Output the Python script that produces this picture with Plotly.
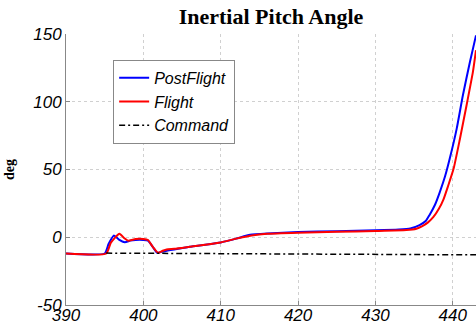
import plotly.graph_objects as go

# ---- data ----
t_post = [390, 395.0, 395.5, 396.2, 396.8, 397.6, 398.3, 399.0, 400.0, 400.6, 401.2, 401.8,
          402.5, 403.0, 404, 406, 408, 410, 412, 413.8, 416, 420, 425, 430, 433, 434.5,
          435.7, 436.5, 437.0, 437.7, 438.3, 439.0, 439.6, 440.5, 441.3, 442.2, 443.0]
v_post = [-12, -12, -5, 1.3, -1.5, -3.6, -2.5, -2, -2, -2.5, -7, -11.5,
          -10.5, -10, -9, -7, -5.5, -3.8, -1, 1.8, 2.8, 3.8, 4.5, 5.2, 5.8, 6.5,
          9, 12, 16.5, 24, 33, 45, 57.9, 80, 104.6, 129, 149]

t_flight = [390, 395.2, 395.8, 396.9, 397.5, 398.0, 399.0, 400.0, 400.6, 401.2, 401.9,
            402.5, 403.0, 404, 406, 408, 410, 412, 414, 416, 420, 425, 430, 434,
            435.3, 436.0, 436.8, 437.5, 438.2, 438.8, 439.4, 440.1, 440.9, 441.8, 442.6, 443.0]
v_flight = [-12, -12, -4, 2.6, -0.5, -2.5, -1.3, -1.3, -2, -7, -11.5,
            -10, -9, -8.5, -7, -5.5, -3.8, -1, 1.3, 2.5, 3.3, 4.0, 4.6, 5.3,
            6.3, 8, 11, 15, 21, 28, 38, 50.5, 72, 98, 122, 138]

t_cmd = [395.2, 443.0]
v_cmd = [-11.7, -13.0]

x_ticks = [390, 400, 410, 420, 430, 440]
y_ticks = [-50, 0, 50, 100, 150]

fig = go.Figure()
fig.add_trace(go.Scatter(x=t_post, y=v_post, name="PostFlight", mode="lines",
                         line=dict(color="#0000ff", width=2, shape="spline", smoothing=0.5)))
fig.add_trace(go.Scatter(x=t_flight, y=v_flight, name="Flight", mode="lines",
                         line=dict(color="#ff0000", width=2, shape="spline", smoothing=0.5)))
fig.add_trace(go.Scatter(x=t_cmd, y=v_cmd, name="Command", mode="lines",
                         line=dict(color="black", width=1.5, dash="6px,3px,2px,3px")))

axis_common = dict(showgrid=True, gridcolor="#d0d0d0", griddash="dot", gridwidth=1,
                   zeroline=False, showline=True, linecolor="#888888", linewidth=1,
                   ticks="inside", ticklen=4, tickcolor="#888888", automargin=False,
                   tickfont=dict(family="Arial", size=17, style="italic", color="black"))

fig.update_layout(
    width=476, height=327,
    margin=dict(l=66, r=0, t=34, b=22),
    paper_bgcolor="white", plot_bgcolor="white",
    title=dict(text="<b>Inertial Pitch Angle</b>", x=(66 + 476) / 2 / 476, xanchor="center",
               y=1 - 16 / 327, yanchor="middle",
               font=dict(family="Liberation Serif", size=22, color="black")),
    xaxis=dict(range=[390, 443], tickvals=x_ticks, ticklabelstandoff=-5,
               ticktext=[f"<i>{v}</i>" for v in x_ticks], **axis_common),
    yaxis=dict(range=[-50, 150], tickvals=y_ticks,
               ticktext=[f"<i>{v}</i>" for v in y_ticks],
               title=dict(text="<b>deg</b>",
                          font=dict(family="Liberation Serif", size=14, color="black")),
               **axis_common),
    legend=dict(x=0.115, y=0.905, xanchor="left", yanchor="top",
                bgcolor="white", bordercolor="#888888", borderwidth=1,
                font=dict(family="Arial", size=16, style="italic", color="black"),
                tracegroupgap=0, itemwidth=30),
    showlegend=True,
)

fig.write_html("out.html")
